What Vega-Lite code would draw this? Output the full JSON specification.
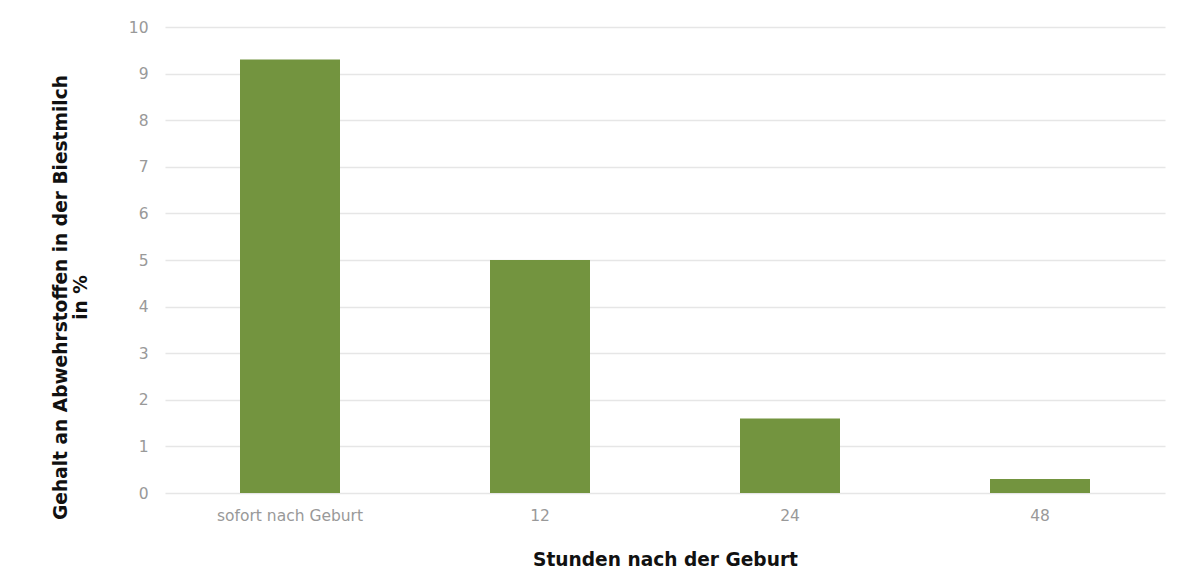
{
  "$schema": "https://vega.github.io/schema/vega-lite/v6.json",
  "autosize": {"type": "none"},
  "width": 1000,
  "height": 466,
  "padding": {"left": 165, "top": 27, "right": 24, "bottom": 86},
  "background": "white",
  "config": {
    "view": {"stroke": null},
    "font": "DejaVu Sans"
  },
  "data": {
    "values": [
      {"zeit": "sofort nach Geburt", "wert": 9.3},
      {"zeit": "12", "wert": 5.0},
      {"zeit": "24", "wert": 1.6},
      {"zeit": "48", "wert": 0.3}
    ]
  },
  "mark": {"type": "bar", "color": "#73943f"},
  "encoding": {
    "x": {
      "field": "zeit",
      "type": "nominal",
      "sort": null,
      "scale": {"paddingInner": 0.6, "paddingOuter": 0.3},
      "axis": {
        "title": "Stunden nach der Geburt",
        "labelAngle": 0,
        "labelFont": "DejaVu Sans",
        "labelFontSize": 15.5,
        "labelColor": "#999999",
        "labelPadding": 15,
        "domain": false,
        "ticks": false,
        "titleFont": "DejaVu Sans",
        "titleFontSize": 18.6,
        "titleFontWeight": "bold",
        "titleColor": "#111111",
        "titlePadding": 27
      }
    },
    "y": {
      "field": "wert",
      "type": "quantitative",
      "scale": {"domain": [0, 10]},
      "axis": {
        "title": ["Gehalt an Abwehrstoffen in der Biestmilch", "in %"],
        "values": [0, 1, 2, 3, 4, 5, 6, 7, 8, 9, 10],
        "labelFont": "DejaVu Sans",
        "labelFontSize": 15.5,
        "labelColor": "#999999",
        "labelPadding": 17,
        "domain": false,
        "ticks": false,
        "grid": true,
        "gridColor": "#e6e6e6",
        "gridWidth": 1.5,
        "titleFont": "DejaVu Sans",
        "titleFontSize": 18.6,
        "titleFontWeight": "bold",
        "titleColor": "#111111",
        "titlePadding": 38,
        "titleLineHeight": 20,
        "titleY": 270
      }
    }
  }
}
